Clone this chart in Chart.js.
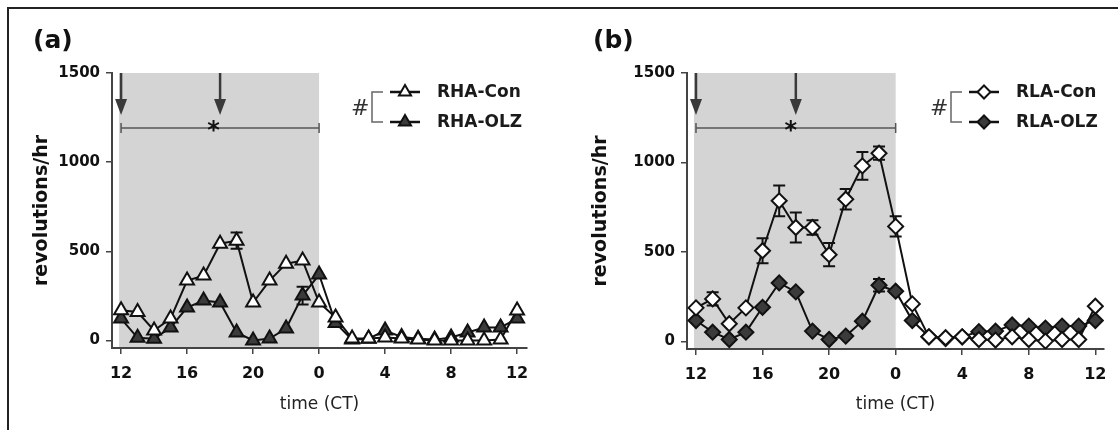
<!DOCTYPE html>
<html><head><meta charset="utf-8">
<script src="https://cdn.jsdelivr.net/npm/chart.js@4"></script>
<style>
html,body{margin:0;padding:0;background:#fff;}
body{width:1118px;height:430px;position:relative;overflow:hidden;}
#frame{position:absolute;left:7px;top:7px;width:1200px;height:500px;border-top:2px solid #222;border-left:2px solid #222;}
canvas{position:absolute;top:0;}
#ca{left:0}
#cb{left:559px}
</style></head><body>
<div id="frame"></div>
<canvas id="ca" width="559" height="430"></canvas>
<canvas id="cb" width="559" height="430"></canvas>
<script>
// time of day (CT), one point per hour, CT12 -> CT12 next day
const ctHours = [12,13,14,15,16,17,18,19,20,21,22,23,0,1,2,3,4,5,6,7,8,9,10,11,12];
const xTickLabels = ['12','16','20','0','4','8','12'];
const xTickIndex = [0,4,8,12,16,20,24];
const yTicks = [0,500,1000,1500];

// panel (a) RHA
const rhaCon    = [170,160,56,123,336,364,543,560,213,336,431,448,213,129,11,11,17,11,5,0,0,0,0,5,168];
const rhaConErr = [0,0,0,0,0,0,0,45,0,0,0,0,0,0,0,0,0,0,0,0,0,0,0,0,0];
const rhaOlz    = [123,15,10,73,185,224,213,45,0,11,67,252,370,98,5,10,56,20,10,5,17,45,73,73,123];
const rhaOlzErr = [0,0,0,0,0,0,0,0,0,0,0,50,0,0,0,0,0,0,0,0,0,0,0,0,0];

// panel (b) RLA
const rlaCon    = [188,238,99,188,507,786,637,637,485,795,981,1052,643,210,26,21,26,11,8,26,11,2,11,11,197];
const rlaConErr = [0,37,0,0,70,86,84,40,65,57,77,37,56,0,0,0,0,0,0,0,0,0,0,0,0];
const rlaOlz    = [117,52,11,52,191,327,277,58,11,30,113,314,281,117,26,16,26,55,58,92,86,75,86,86,117];
const rlaOlzErr = [0,0,0,0,0,0,0,0,0,0,0,35,0,0,0,0,0,0,0,0,0,0,0,0,0];

const legendA = ['RHA-Con','RHA-OLZ'];
const legendB = ['RLA-Con','RLA-OLZ'];
const darkPhase = [-0.12, 12];   // shaded (dark) period, in hours from CT12
const arrowHours = [0, 6];       // injection arrows
const sigRange = [0, 12];        // bracket with *

Chart.defaults.font.family = 'DejaVu Sans';
Chart.defaults.color = '#111';

function pts(arr){ return arr.map((v,i)=>({x:i,y:v})); }

const panelPlugin = {
  id:'panel',
  beforeDraw(chart, args, o){
    const {ctx, chartArea:ca, scales:{x}} = chart;
    const x0 = x.getPixelForValue(darkPhase[0]), x1 = x.getPixelForValue(darkPhase[1]);
    ctx.save();
    ctx.fillStyle = '#d4d4d4';
    ctx.fillRect(x0, ca.top, x1-x0, ca.bottom-ca.top-1);
    ctx.restore();
  },
  beforeDatasetsDraw(chart){
    const {ctx, scales:{x,y}} = chart;
    ctx.save(); ctx.strokeStyle='#111'; ctx.lineWidth=2;
    chart.data.datasets.forEach(ds=>{
      if(!ds.err) return;
      ds.data.forEach((p,i)=>{
        const e = ds.err[i]; if(!e) return;
        const px = x.getPixelForValue(p.x), yt = y.getPixelForValue(p.y+e), yb = y.getPixelForValue(p.y-e);
        ctx.beginPath();
        ctx.moveTo(px,yt); ctx.lineTo(px,yb);
        ctx.moveTo(px-6,yt); ctx.lineTo(px+6,yt);
        ctx.moveTo(px-6,yb); ctx.lineTo(px+6,yb);
        ctx.stroke();
      });
    });
    ctx.restore();
  },
  afterDraw(chart, args, o){
    const {ctx, chartArea:ca, scales:{x,y}} = chart;
    ctx.save();
    // arrows
    ctx.fillStyle = '#3a3a3a'; ctx.strokeStyle = '#3a3a3a';
    arrowHours.forEach(h=>{
      const px = x.getPixelForValue(h);
      ctx.lineWidth = 2.5;
      ctx.beginPath(); ctx.moveTo(px, ca.top); ctx.lineTo(px, ca.top+30); ctx.stroke();
      ctx.beginPath(); ctx.moveTo(px-6, ca.top+26); ctx.lineTo(px+6, ca.top+26); ctx.lineTo(px, ca.top+42); ctx.closePath(); ctx.fill();
    });
    // significance bracket
    const bx0 = x.getPixelForValue(sigRange[0]), bx1 = x.getPixelForValue(sigRange[1]);
    const by = ca.top + 55;
    ctx.strokeStyle = '#555'; ctx.lineWidth = 1.5;
    ctx.beginPath();
    ctx.moveTo(bx0, by); ctx.lineTo(bx1, by);
    ctx.moveTo(bx0, by-5); ctx.lineTo(bx0, by+5);
    ctx.moveTo(bx1, by-5); ctx.lineTo(bx1, by+5);
    ctx.stroke();
    ctx.fillStyle = '#111';
    ctx.font = 'bold 24px "DejaVu Sans"';
    ctx.textAlign = 'center'; ctx.textBaseline = 'alphabetic';
    ctx.fillText('*', x.getPixelForValue(o.star), by+10);
    // panel letter
    ctx.font = 'bold 25px "DejaVu Sans"';
    ctx.textAlign = 'left'; ctx.textBaseline = 'middle';
    ctx.fillText(o.letter, o.letterX, 41);
    // legend
    const la = o.legendX, r1 = 92, r2 = 122;
    ctx.font = '22px "DejaVu Sans"';
    ctx.fillStyle = '#333';
    ctx.fillText('#', la-2, 109);
    ctx.strokeStyle = '#666'; ctx.lineWidth = 1.5;
    ctx.beginPath();
    ctx.moveTo(la+30, r1); ctx.lineTo(la+19, r1); ctx.lineTo(la+19, r2); ctx.lineTo(la+30, r2);
    ctx.stroke();
    const dsets = chart.data.datasets;
    [r1, r2].forEach((ry, k)=>{
      const ds = dsets[k];
      ctx.strokeStyle = '#111'; ctx.lineWidth = 2.5;
      ctx.beginPath(); ctx.moveTo(la+37, ry); ctx.lineTo(la+67, ry); ctx.stroke();
      ctx.fillStyle = ds.pointBackgroundColor; ctx.strokeStyle = '#111'; ctx.lineWidth = 2;
      Chart.helpers.drawPoint(ctx, {pointStyle: ds.pointStyle, rotation: 0, borderWidth: 2, radius: ds.pointRadius - 1}, la+52, ry);
      ctx.fillStyle = '#1a1a1a';
      ctx.font = 'bold 17px "DejaVu Sans"';
      ctx.textAlign = 'left'; ctx.textBaseline = 'middle';
      ctx.fillText(o.labels[k], la+84, ry+1);
    });
    ctx.restore();
  }
};

function makeChart(id, conData, conErr, olzData, olzErr, style, labels, lay){
  return new Chart(document.getElementById(id), {
    type: 'line',
    data: {
      datasets: [
        {label: labels[0], data: pts(conData), err: conErr, borderColor:'#111', borderWidth:2,
         pointStyle: style, pointRadius: style==='triangle'?8:7.5, pointBackgroundColor:'#ffffff', pointBorderColor:'#111', pointBorderWidth:2, tension:0},
        {label: labels[1], data: pts(olzData), err: olzErr, borderColor:'#111', borderWidth:2,
         pointStyle: style, pointRadius: style==='triangle'?8:7.5, pointBackgroundColor:'#3b3b3b', pointBorderColor:'#111', pointBorderWidth:2, tension:0}
      ]
    },
    options: {
      responsive:false, animation:false, events:[],
      layout:{padding:{left:0, top:73, right:lay.right, bottom:0}},
      plugins:{legend:{display:false}, tooltip:{enabled:false},
        panel:{letter:lay.letter, letterX:lay.letterX, legendX:lay.legendX, labels:labels, star:lay.star}},
      scales:{
        x:{type:'linear', min:lay.xmin, max:lay.xmax,
          afterFit(s){ s.height = 430-lay.bottom; },
          afterBuildTicks(s){ s.ticks = xTickIndex.map(v=>({value:v})); },
          ticks:{autoSkip:false, maxRotation:0, padding:10, color:'#111',
            font:{size:16, weight:'bold'}, callback:(v,i)=>xTickLabels[i]},
          grid:{drawOnChartArea:false, tickLength:6, color:'#444', lineWidth:1.5},
          border:{display:true, color:'#444', width:2},
          title:{display:true, text:'time (CT)', color:'#222', font:{size:17}, padding:{top:0,bottom:15}}
        },
        y:{type:'linear', min:-42, max:1500,
          afterFit(s){ s.width = lay.left; },
          afterBuildTicks(s){ s.ticks = yTicks.map(v=>({value:v})); },
          ticks:{padding:6, color:'#111', font:{size:15, weight:'bold'}, callback:(v)=>String(v)},
          grid:{drawOnChartArea:false, tickLength:6, color:'#444', lineWidth:1.5},
          border:{display:true, color:'#444', width:2},
          title:{display:true, text:'revolutions/hr', color:'#111', font:{size:19, weight:'bold'}, padding:{top:31,bottom:0}}
        }
      }
    },
    plugins:[panelPlugin]
  });
}

makeChart('ca', rhaCon, rhaConErr, rhaOlz, rhaOlzErr, 'triangle', legendA,
  {left:112, right:32, bottom:348, xmin:-0.55, xmax:24.6, letter:'(a)', letterX:33, legendX:353, star:5.6});
makeChart('cb', rlaCon, rlaConErr, rlaOlz, rlaOlzErr, 'rectRot', legendB,
  {left:128, right:14, bottom:349, xmin:-0.54, xmax:24.52, letter:'(b)', letterX:34, legendX:373, star:5.7});
</script>
</body></html>
